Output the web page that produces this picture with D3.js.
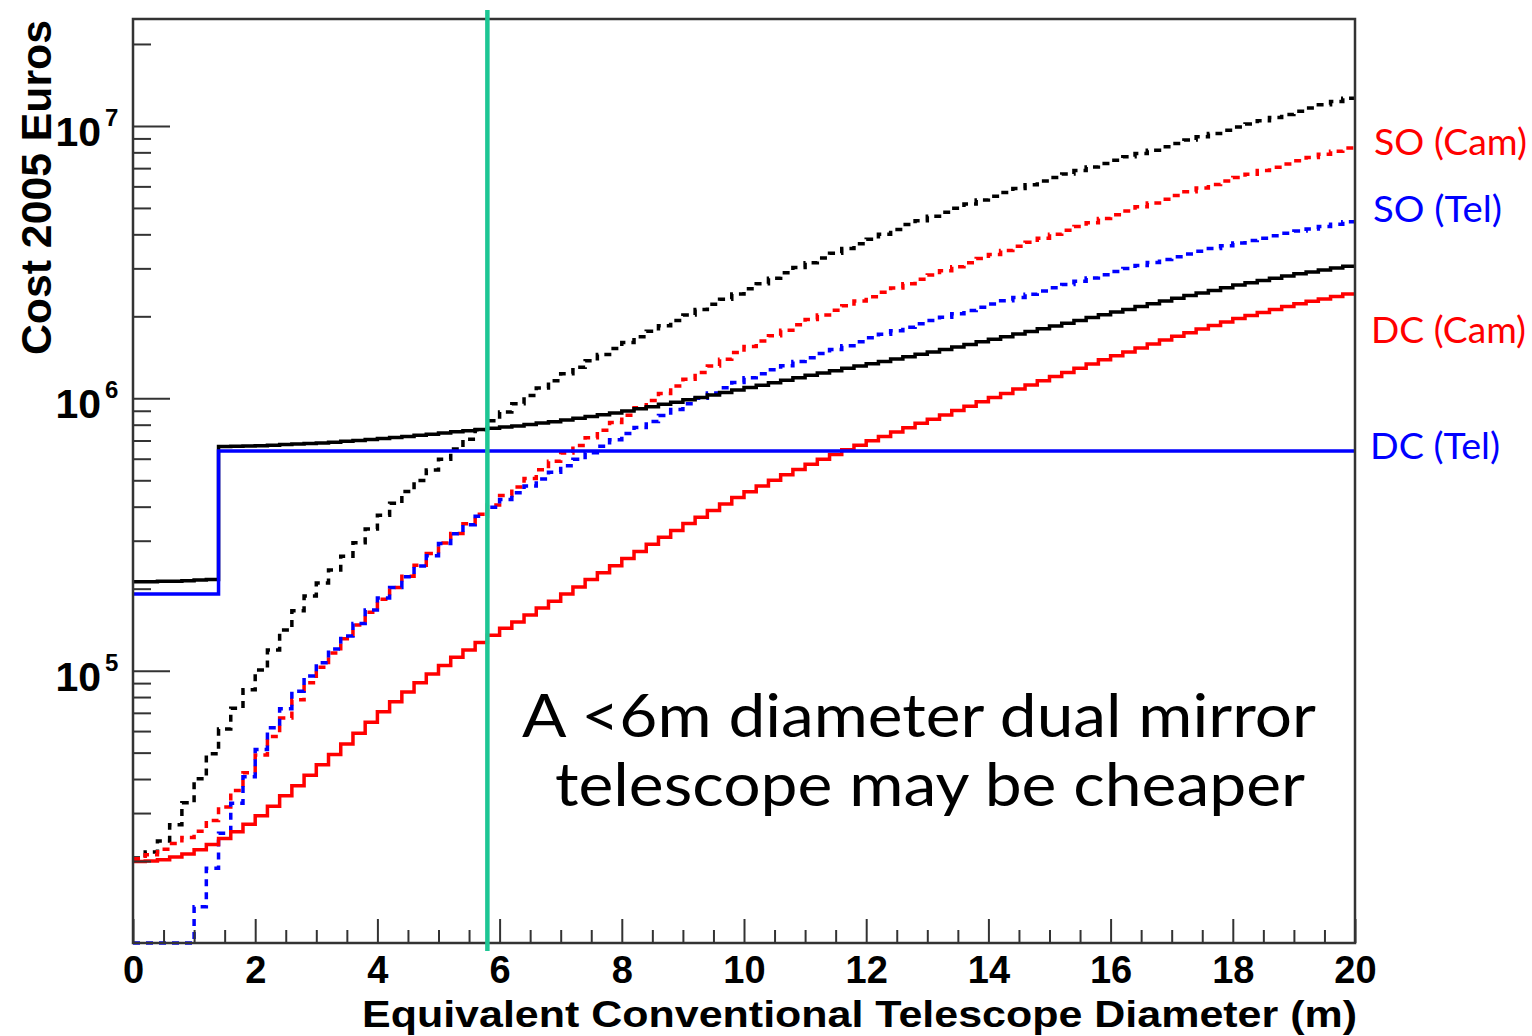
<!DOCTYPE html>
<html><head><meta charset="utf-8">
<script src="https://cdn.jsdelivr.net/npm/d3@7"></script>
<style>
html,body{margin:0;padding:0;background:#fff;}
svg{display:block;}
</style></head><body>
<script>
// ---------------- data (costs in thousands of euros, one value per 0.2 m bin, 0 .. 20 m) ----------------
const binWidth = 0.2;
const xRange = [0, 20];
const yRangeEuro = [1e4, 2.47e7];

// SO (Tel+Cam) total - black dotted
const soTotal = [20.5, 21.6, 23.7, 27.2, 32.7, 40.1, 49.5, 61.0, 72.8, 85.1,
  100.5, 119, 141, 166, 188, 210, 234, 263, 295, 331,
  372, 412, 455, 499, 546, 597, 652, 708, 767, 828,
  891, 955, 1023, 1091, 1161, 1230, 1300, 1374, 1449, 1524,
  1603, 1683, 1762, 1845, 1932, 2023, 2118, 2213, 2312, 2415,
  2523, 2636, 2761, 2891, 3020, 3148, 3273, 3412, 3548, 3690,
  3837, 3999, 4169, 4345, 4487, 4656, 4819, 4989, 5164, 5346,
  5521, 5702, 5888, 6081, 6281, 6471, 6668, 6855, 7063, 7278,
  7482, 7709, 7925, 8147, 8395, 8630, 8872, 9120, 9376, 9638,
  9908, 10160, 10450, 10740, 11020, 11320, 11640, 11970, 12300, 12650];

// SO (Cam) - red dotted
const soCam = [20.4, 21.1, 22.1, 23.2, 24.4, 25.7, 28.2, 31.6, 36.3, 42.2,
  49.0, 57.3, 67.0, 78.2, 90.2, 103, 116, 131, 147, 164,
  183, 202, 222, 244, 269, 294, 319, 346, 375, 406,
  440, 472, 508, 547, 587, 630, 671, 716, 764, 815,
  867, 923, 982, 1042, 1109, 1175, 1245, 1315, 1390, 1472,
  1549, 1622, 1698, 1778, 1862, 1945, 2023, 2104, 2188, 2275,
  2360, 2449, 2541, 2636, 2735, 2838, 2938, 3041, 3148, 3258,
  3373, 3491, 3614, 3741, 3873, 3999, 4140, 4276, 4416, 4571,
  4721, 4875, 5047, 5212, 5383, 5559, 5728, 5916, 6095, 6281,
  6471, 6653, 6855, 7047, 7244, 7447, 7656, 7870, 8072, 8299];

// SO (Tel) - blue dotted
const soTel = [0, 0, 0, 0, 0, 13.6, 18.8, 25.3, 32.6, 40.8,
  51.3, 61.7, 72.4, 84.1, 95.5, 107, 120, 134, 149, 167,
  185, 202, 221, 242, 264, 293, 318, 343, 369, 398,
  425, 450, 476, 505, 535, 565, 597, 631, 667, 705,
  743, 782, 822, 865, 910, 955, 1000, 1045, 1094, 1143,
  1189, 1230, 1274, 1318, 1365, 1409, 1459, 1510, 1560, 1614,
  1667, 1718, 1770, 1824, 1879, 1932, 1986, 2042, 2099, 2158,
  2218, 2280, 2344, 2410, 2477, 2547, 2618, 2692, 2767, 2844,
  2924, 2999, 3076, 3155, 3236, 3311, 3388, 3467, 3548, 3631,
  3715, 3793, 3873, 3954, 4036, 4111, 4188, 4276, 4355, 4446];

// DC (Tel+Cam) total - black solid
const dcTotal = [212, 212, 213, 213, 214, 215, 216, 665, 667, 668,
  670, 673, 676, 679, 682, 686, 690, 695, 700, 706,
  712, 718, 724, 731, 738, 746, 753, 760, 768, 776,
  784, 792, 801, 811, 821, 832, 844, 857, 870, 884,
  899, 915, 932, 950, 968, 988, 1007, 1028, 1050, 1073,
  1095, 1117, 1141, 1165, 1189, 1214, 1238, 1263, 1288, 1314,
  1339, 1365, 1393, 1421, 1450, 1479, 1510, 1543, 1576, 1612,
  1648, 1683, 1722, 1760, 1802, 1843, 1886, 1929, 1978, 2025,
  2073, 2120, 2172, 2222, 2278, 2331, 2383, 2436, 2490, 2546,
  2604, 2655, 2706, 2759, 2814, 2864, 2911, 2958, 3007, 3056];

// DC (Cam) - red solid
const dcCam = [19.9, 20.0, 20.2, 20.7, 21.2, 22.0, 23.0, 24.2, 25.6, 27.3,
  29.3, 31.8, 34.7, 37.8, 41.3, 45.1, 49.2, 53.8, 58.9, 64.6,
  70.6, 76.9, 83.4, 90.2, 97.3, 104.5, 112, 119, 127, 135,
  143, 151, 160, 170, 180, 191, 203, 216, 229, 243,
  258, 274, 291, 309, 327, 347, 366, 387, 409, 432,
  454, 476, 500, 524, 548, 573, 597, 622, 647, 673,
  698, 724, 752, 780, 809, 838, 869, 902, 935, 971,
  1007, 1042, 1081, 1119, 1161, 1202, 1245, 1288, 1337, 1384,
  1432, 1479, 1531, 1581, 1637, 1690, 1742, 1795, 1849, 1905,
  1963, 2014, 2065, 2118, 2173, 2223, 2270, 2317, 2366, 2415];

// DC (Tel) - blue solid (two levels)
const dcTelEdges = [0, 1.4, 20];
const dcTelValues = [191, 641];

// axis ticks / labels
const xMajorTicks = [0, 2, 4, 6, 8, 10, 12, 14, 16, 18, 20];
const xTickLabels = ["0", "2", "4", "6", "8", "10", "12", "14", "16", "18", "20"];
const xMinorStep = 0.5;
const yMajorExponents = [5, 6, 7];
const yMinorMultipliers = [2, 3, 4, 5, 6, 7, 8, 9];
const xTitle = "Equivalent Conventional Telescope Diameter (m)";
const yTitle = "Cost 2005 Euros";
const seriesLabels = ["SO (Cam)", "SO (Tel)", "DC (Cam)", "DC (Tel)"];
const seriesLabelColors = ["#ff0000", "#0000ff", "#ff0000", "#0000ff"];
const annotationLines = ["A <6m diameter dual mirror", "telescope may be cheaper"];
const markerDiameter = 5.8;

// ---------------- drawing ----------------
const W = 1532, H = 1036;
const L = 133, R = 1355, T = 19, B = 943;
const svg = d3.select("body").append("svg").attr("width", W).attr("height", H)
  .style("background", "#fff");

const x = d3.scaleLinear().domain(xRange).range([L, R]);
const y = d3.scaleLog().domain(yRangeEuro).range([B, T]);

svg.append("defs").append("clipPath").attr("id", "plotclip")
  .append("rect").attr("x", L).attr("y", T).attr("width", R - L).attr("height", B - T + 3);

const line = d3.line()
  .x(d => x(d[0]))
  .y(d => d[1] > 0 ? y(d[1]) : B)
  .curve(d3.curveStepAfter);

function histPoints(vals) {
  const pts = vals.map((v, i) => [i * binWidth, v * 1000]);
  pts.push([xRange[1], vals[vals.length - 1] * 1000]);
  return pts;
}
function edgePoints(edges, vals) {
  const pts = vals.map((v, i) => [edges[i], v * 1000]);
  pts.push([edges[edges.length - 1], vals[vals.length - 1] * 1000]);
  return pts;
}

const g = svg.append("g").attr("clip-path", "url(#plotclip)");
const series = [
  { pts: histPoints(soTotal), color: "#000000", dash: "7,6" },
  { pts: histPoints(soCam), color: "#ff0000", dash: "7,6" },
  { pts: histPoints(soTel), color: "#0000ff", dash: "7,6" },
  { pts: histPoints(dcTotal), color: "#000000", dash: null },
  { pts: histPoints(dcCam), color: "#ff0000", dash: null },
  { pts: edgePoints(dcTelEdges, dcTelValues), color: "#0000ff", dash: null }
];
series.forEach(s => {
  g.append("path").attr("d", line(s.pts))
    .attr("fill", "none").attr("stroke", s.color)
    .attr("stroke-width", 3.5)
    .attr("stroke-dasharray", s.dash)
    .attr("stroke-linejoin", "miter");
});

// frame
svg.append("rect").attr("x", L).attr("y", T).attr("width", R - L).attr("height", B - T)
  .attr("fill", "none").attr("stroke", "#333").attr("stroke-width", 2.5);

// x ticks
const xMinor = d3.range(xRange[0], xRange[1] + 1e-9, xMinorStep).filter(v => xMajorTicks.indexOf(v) < 0);
const axX1 = svg.append("g").attr("transform", `translate(0,${B})`)
  .call(d3.axisBottom(x).tickValues(xMinor).tickSize(-13).tickSizeOuter(0).tickFormat(""));
const axX2 = svg.append("g").attr("transform", `translate(0,${B})`)
  .call(d3.axisBottom(x).tickValues(xMajorTicks).tickSize(-24).tickSizeOuter(0).tickPadding(13)
    .tickFormat((d, i) => xTickLabels[i]));
[axX1, axX2].forEach(a => {
  a.select(".domain").remove();
  a.selectAll("line").attr("stroke", "#333").attr("stroke-width", 2);
});
axX2.selectAll("text").attr("font-family", "'Liberation Sans', Arial, sans-serif")
  .attr("font-weight", "bold").attr("font-size", 38).attr("fill", "#000");

// y ticks
const yMajor = yMajorExponents.map(e => Math.pow(10, e));
const yMinor = [];
for (let e = 4; e <= 7; e++) yMinorMultipliers.forEach(m => {
  const v = m * Math.pow(10, e);
  if (v >= yRangeEuro[0] && v <= yRangeEuro[1]) yMinor.push(v);
});
const axY1 = svg.append("g").attr("transform", `translate(${L},0)`)
  .call(d3.axisLeft(y).tickValues(yMinor).tickSize(-18).tickSizeOuter(0).tickFormat(""));
const axY2 = svg.append("g").attr("transform", `translate(${L},0)`)
  .call(d3.axisLeft(y).tickValues(yMajor).tickSize(-37).tickSizeOuter(0).tickFormat(""));
[axY1, axY2].forEach(a => {
  a.select(".domain").remove();
  a.selectAll("line").attr("stroke", "#333").attr("stroke-width", 2);
});
yMajorExponents.forEach(e => {
  const yy = y(Math.pow(10, e));
  svg.append("text").attr("font-family", "'Liberation Sans', Arial, sans-serif")
    .attr("font-weight", "bold").attr("fill", "#000")
    .attr("x", 101).attr("y", yy + 20).attr("text-anchor", "end")
    .attr("font-size", 41).text("10");
  svg.append("text").attr("font-family", "'Liberation Sans', Arial, sans-serif")
    .attr("font-weight", "bold").attr("fill", "#000")
    .attr("x", 105).attr("y", yy).attr("font-size", 24).text(String(e));
});

// axis titles
svg.append("text").attr("x", 1357).attr("y", 1027).attr("text-anchor", "end")
  .attr("font-family", "'Liberation Sans', Arial, sans-serif").attr("font-weight", "bold")
  .attr("font-size", 36).attr("textLength", 995).attr("lengthAdjust", "spacingAndGlyphs")
  .text(xTitle);
svg.append("text").attr("transform", "translate(51,20) rotate(-90)").attr("text-anchor", "end")
  .attr("font-family", "'Liberation Sans', Arial, sans-serif").attr("font-weight", "bold")
  .attr("font-size", 42).attr("textLength", 335).attr("lengthAdjust", "spacingAndGlyphs")
  .text(yTitle);

// marker line
svg.append("line").attr("x1", x(markerDiameter)).attr("x2", x(markerDiameter))
  .attr("y1", 10).attr("y2", 951).attr("stroke", "#1dc694").attr("stroke-width", 4.5);

// series labels on the right
const labelPos = [[1374, 155, 153], [1373, 222, 129], [1371, 343, 155], [1370, 459, 130]];
seriesLabels.forEach((s, i) => {
  svg.append("text").attr("x", labelPos[i][0]).attr("y", labelPos[i][1])
    .attr("font-family", "Lato, 'Open Sans', sans-serif").attr("font-size", 37)
    .attr("fill", seriesLabelColors[i])
    .attr("textLength", labelPos[i][2]).attr("lengthAdjust", "spacingAndGlyphs").text(s);
});

// annotation
const annPos = [[522, 737, 794], [555, 806, 750]];
annotationLines.forEach((s, i) => {
  svg.append("text").attr("x", annPos[i][0]).attr("y", annPos[i][1])
    .attr("font-family", "Lato, 'Open Sans', sans-serif").attr("font-size", 60)
    .attr("fill", "#000")
    .attr("textLength", annPos[i][2]).attr("lengthAdjust", "spacingAndGlyphs").text(s);
});
</script>
</body></html>
